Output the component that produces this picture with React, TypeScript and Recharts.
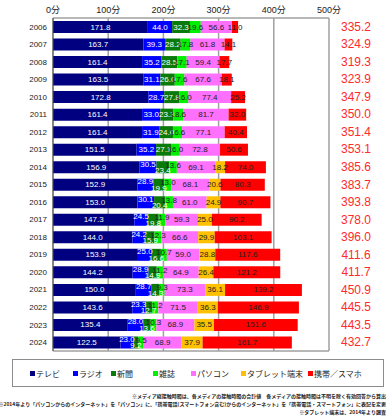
import { Bar, BarChart, CartesianGrid, LabelList, XAxis, YAxis } from "recharts";

const YEARS = ["2006", "2007", "2008", "2009", "2010", "2011", "2012", "2013", "2014", "2015", "2016", "2017", "2018", "2019", "2020", "2021", "2022", "2023", "2024"];
const TV = [171.8, 163.7, 161.4, 163.5, 172.8, 161.4, 161.4, 151.5, 156.9, 152.9, 153.0, 147.3, 144.0, 153.9, 144.2, 150.0, 143.6, 135.4, 122.5];
const RADIO = [44.0, 39.3, 35.2, 31.1, 28.7, 33.0, 31.9, 35.2, 30.5, 28.9, 30.1, 24.5, 24.2, 25.0, 28.9, 28.7, 23.3, 28.0, 23.0];
const NEWSPAPER = [32.3, 28.2, 28.5, 26.0, 27.8, 23.3, 24.0, 27.1, 23.4, 19.9, 20.4, 19.8, 15.9, 16.6, 14.9, 14.3, 12.7, 13.6, 9.2];
const MAGAZINE = [19.6, 17.8, 17.1, 17.6, 16.0, 18.6, 16.6, 16.0, 13.6, 13.0, 13.8, 11.9, 12.3, 10.7, 11.2, 9.3, 11.2, 10.3, 9.5];
const PC = [56.6, 61.8, 59.4, 67.6, 77.4, 81.7, 77.1, 72.8, 69.1, 68.1, 61.0, 59.3, 66.6, 59.0, 64.9, 73.3, 71.5, 68.9, 68.9];
const TABLET = [null, null, null, null, null, null, null, null, 18.2, 20.6, 24.9, 25.0, 29.9, 28.8, 26.4, 36.1, 36.3, 35.5, 37.9];
const MOBILE = [11.0, 14.1, 17.7, 18.1, 25.2, 32.0, 40.4, 50.6, 74.0, 80.3, 90.7, 90.2, 103.1, 117.6, 121.2, 139.2, 146.9, 151.6, 161.7];
const TOTALS = [335.2, 324.9, 319.3, 323.9, 347.9, 350.0, 351.4, 353.1, 385.6, 383.7, 393.8, 378.0, 396.0, 411.6, 411.7, 450.9, 445.5, 443.5, 432.7];
const X_TICKS = [0, 100, 200, 300, 400, 500];

const SERIES = [
  { key: "tv", name: "テレビ", color: "#000080", text: "#fff" },
  { key: "radio", name: "ラジオ", color: "#0000ff", text: "#fff" },
  { key: "newspaper", name: "新聞", color: "#0a7a0a", text: "#fff" },
  { key: "magazine", name: "雑誌", color: "#00f000", text: "#222" },
  { key: "pc", name: "パソコン", color: "#ff70ff", text: "#222" },
  { key: "tablet", name: "タブレット端末", color: "#ffc000", text: "#222" },
  { key: "mobile", name: "携帯／スマホ", color: "#ff0000", text: "#222" },
];

const rows = YEARS.map((year, i) => ({
  year,
  tv: TV[i],
  radio: RADIO[i],
  newspaper: NEWSPAPER[i],
  magazine: MAGAZINE[i],
  pc: PC[i],
  tablet: TABLET[i] ?? 0,
  mobile: MOBILE[i],
}));

const FONT = "'Liberation Sans', Arial, 'Noto Sans CJK JP', sans-serif";
const NARROW = "'Liberation Sans Narrow', 'Liberation Sans', Arial, sans-serif";
const JP = "'Noto Sans CJK JP', sans-serif";

// from 2014 on, Excel nudged the crowded labels up / down
const SHIFTS: Record<string, number> = { radio: -3, newspaper: 3.5, magazine: -2 };

function segLabel(key: string, color: string) {
  return (p: any) => {
    const { x, y, width, height, value, index } = p;
    if (!value) return null;
    const dy = index >= 8 && SHIFTS[key] ? SHIFTS[key] : 0;
    return (
      <text
        x={x + width / 2}
        y={y + height / 2 + dy}
        fill={color}
        fontSize={8}
        fontFamily={NARROW}
        textAnchor="middle"
        dominantBaseline="central"
      >
        {Number(value).toFixed(1)}
      </text>
    );
  };
}

function TotalTick(p: any) {
  const i = YEARS.indexOf(p.payload.value);
  return (
    <text
      x={p.x + 27}
      y={p.y}
      fill="#ff2a2a"
      fontSize={12}
      fontFamily={NARROW}
      textAnchor="middle"
      dominantBaseline="central"
    >
      {TOTALS[i].toFixed(1)}
    </text>
  );
}

const LEGEND_X = [17, 60, 98, 140, 178, 228, 295];

const NOTES = [
  "※メディア総接触時間は、各メディアの接触時間の合計値　各メディアの接触時間は不明を除く有効回答から算出",
  "※2014年より「パソコンからのインターネット」を「パソコン」に、「携帯電話(スマートフォン含む)からのインターネット」を「携帯電話・スマートフォン」に表記を変更",
  "※タブレット端末は、2014年より調査",
];

export default function App() {
  return (
    <div style={{ position: "absolute", left: 0, top: 0, width: 392, height: 419, background: "#fff", fontFamily: FONT }}>
      <BarChart
        width={392}
        height={356}
        data={rows}
        layout="vertical"
        barSize={12}
        margin={{ top: 0, right: 8, bottom: 5, left: 8 }}
      >
        <CartesianGrid
          yAxisId="left"
          stroke="#a0a0a0"
          strokeWidth={1.5}
          horizontalCoordinatesGenerator={({ offset }: any) => [offset.top, offset.top + offset.height]}
        />
        <XAxis
          type="number"
          orientation="top"
          domain={[0, 500]}
          ticks={X_TICKS}
          tickFormatter={(v) => `${v}分`}
          axisLine={false}
          tickLine={false}
          tickSize={0}
          tickMargin={5}
          height={18}
          tick={{ fontSize: 9, fill: "#222", fontFamily: FONT }}
          interval={0}
        />
        <YAxis
          yAxisId="left"
          type="category"
          dataKey="year"
          width={45}
          tickLine={false}
          tickSize={0}
          tickMargin={6}
          axisLine={{ stroke: "#555" }}
          tick={{ fontSize: 8, fill: "#222", fontFamily: FONT }}
          interval={0}
        />
        <YAxis
          yAxisId="right"
          orientation="right"
          type="category"
          dataKey="year"
          width={55}
          tickLine={false}
          tickSize={0}
          tickMargin={0}
          axisLine={false}
          tick={<TotalTick />}
          interval={0}
        />
        {SERIES.map((s) => (
          <Bar key={s.key} yAxisId="left" dataKey={s.key} name={s.name} stackId="a" fill={s.color} isAnimationActive={false}>
            <LabelList dataKey={s.key} content={segLabel(s.key, s.text)} />
          </Bar>
        ))}
      </BarChart>

      <div style={{ position: "absolute", left: 12, top: 359, width: 372, height: 28, border: "1px solid #8c8c8c", boxSizing: "border-box" }}>
        {SERIES.map((s, i) => (
          <div key={s.key} style={{ position: "absolute", left: LEGEND_X[i], top: 8, display: "flex", alignItems: "center", fontSize: 8, fontFamily: JP, color: "#222", whiteSpace: "nowrap" }}>
            <span style={{ width: 5, height: 5, background: s.color, marginRight: 1, display: "inline-block" }} />
            {s.name}
          </div>
        ))}
      </div>

      {NOTES.map((n, i) => (
        <div key={i} style={{ position: "absolute", right: 6, top: 392 + i * 8, fontSize: 5, lineHeight: "7px", fontWeight: 700, fontFamily: JP, color: "#222", whiteSpace: "nowrap" }}>
          {n}
        </div>
      ))}
    </div>
  );
}
